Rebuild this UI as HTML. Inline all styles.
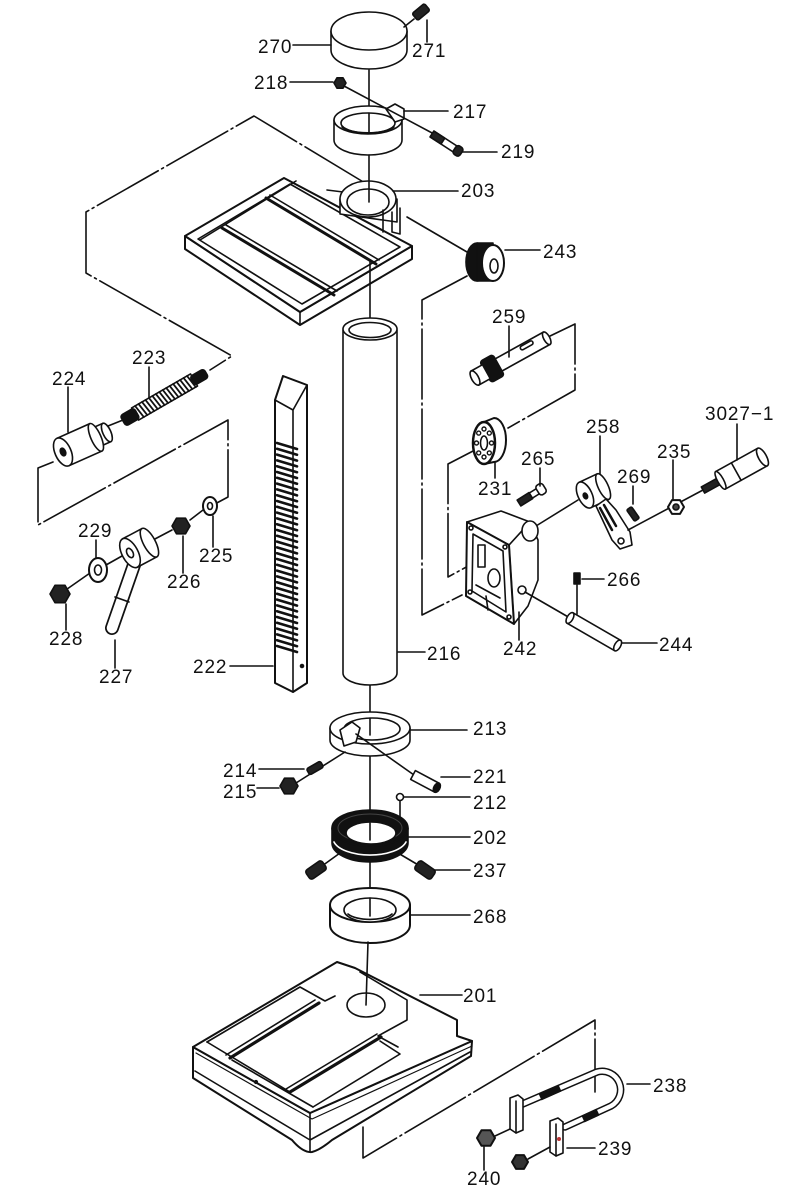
<!DOCTYPE html>
<html><head><meta charset="utf-8"><style>
html,body{margin:0;padding:0;background:#fff;}
svg{display:block}
text{font-family:"Liberation Sans",sans-serif;font-size:19px;fill:#111;letter-spacing:0.9px}
</style></head><body>
<svg width="799" height="1200" viewBox="0 0 799 1200" xmlns="http://www.w3.org/2000/svg">
<rect width="799" height="1200" fill="#fff"/>
<g fill="none" stroke="#111" stroke-width="1.6" stroke-linejoin="round" stroke-linecap="round">

<!-- chain lines -->
<g stroke-dasharray="70 4 2 4">
<path d="M365,183 L254,116 L86,212 L86,273 L232,356 L210,370"/>
<path d="M467,276 L422,300 L422,615 L462,595"/>
<path d="M548,337 L575,324 L575,390 L508,428"/>
<path d="M475,450 L448,464 L448,577 L470,565"/>
<path d="M53,462 L38,468 L38,525 L228,420 L228,497 L213,505"/>
<path d="M363,1127 L363,1158 L595,1020 L595,1092"/>
</g>
<line x1="407" y1="217" x2="467" y2="252"/>
<line x1="103" y1="428" x2="123" y2="420"/>

<!-- center lines -->
<line x1="369" y1="70" x2="369" y2="128"/>
<line x1="370" y1="685" x2="370" y2="730"/>
<line x1="370" y1="755" x2="370" y2="835"/>
<line x1="370" y1="860" x2="370" y2="912"/>

<!-- 270 cap -->
<path d="M331,31 V50 A38,19 0 0 0 407,50 V31" fill="#fff"/>
<ellipse cx="369" cy="31" rx="38" ry="19" fill="#fff"/>
<!-- 271 -->
<g transform="translate(421,12) rotate(-40)"><rect x="-8" y="-4.5" width="16" height="9" rx="2" fill="#222"/></g>
<line x1="414" y1="19" x2="404" y2="27"/>
<line x1="427" y1="20" x2="427" y2="42"/>
<line x1="293" y1="45" x2="331" y2="45"/>

<!-- 217 collar -->
<path d="M334,120 V140 A34,15 0 0 0 402,140 V120" fill="#fff"/>
<ellipse cx="368" cy="120" rx="34" ry="14" fill="#fff"/>
<ellipse cx="368" cy="123" rx="27" ry="10" fill="#fff"/>
<path d="M342,127 A27,8 0 0 0 394,127"/>
<path d="M386,109 L395,104 L404,109 L404,119 L395,122 Z" fill="#fff"/>
<line x1="369" y1="113" x2="369" y2="133"/>
<!-- 218 nut and bolt line -->
<polygon points="346,83 343,88.2 337,88.2 334,83 337,77.8 343,77.8" fill="#222"/>
<line x1="290" y1="82" x2="333" y2="82"/>
<line x1="344" y1="86" x2="434" y2="134"/>
<!-- 219 bolt -->
<g transform="translate(432,134) rotate(33)">
<rect x="0" y="-3.5" width="28" height="7" fill="#fff"/>
<rect x="0" y="-3.5" width="13" height="7" fill="#222"/>
<rect x="27" y="-5" width="8" height="10" rx="3" fill="#222"/>
</g>
<line x1="404" y1="111" x2="448" y2="111"/>
<line x1="462" y1="152" x2="497" y2="152"/>

<!-- 203 table -->
<path d="M185,236 L300,312 L412,246 L412,259 L300,325 L185,249 Z" fill="#fff" stroke-width="2"/>
<line x1="300" y1="312" x2="300" y2="325"/>
<polygon points="185,236 284,178 412,246 300,312" fill="#fff" stroke-width="2"/>
<polygon points="198,239 290,184 400,247 302,304"/>
<line x1="200" y1="240" x2="296" y2="181"/>
<path d="M266,198 L376,264" stroke-width="3"/>
<path d="M270,195 L379,260"/>
<path d="M222,228 L334,295" stroke-width="3"/>
<path d="M226,225 L337,291"/>
<line x1="327" y1="190" x2="343" y2="192"/>
<!-- ring boss -->
<path d="M340,199 V214 L397,222 V199" fill="#fff"/>
<ellipse cx="368" cy="199" rx="28" ry="18" fill="#fff"/>
<ellipse cx="368" cy="202" rx="21" ry="13" fill="#fff"/>
<path d="M383,210 V232 M392,212 V232 M400,208 V234 M392,232 L400,234"/>
<line x1="369" y1="155" x2="369" y2="202"/>
<line x1="370" y1="262" x2="370" y2="330"/>
<line x1="393" y1="191" x2="458" y2="191"/>

<!-- 243 knob -->
<ellipse cx="477" cy="262" rx="11" ry="19" fill="#111"/>
<rect x="477" y="243" width="16" height="38" fill="#111"/>
<ellipse cx="493" cy="263" rx="11" ry="18" fill="#fff" stroke-width="2"/>
<ellipse cx="494" cy="266" rx="4" ry="7" fill="#fff"/>
<line x1="505" y1="250" x2="540" y2="250"/>

<!-- 216 column -->
<path d="M343,330 V673 A27,12 0 0 0 397,673 V330" fill="#fff"/>
<ellipse cx="370" cy="329" rx="27" ry="11" fill="#fff"/>
<ellipse cx="370" cy="330" rx="21" ry="7.5" fill="#fff"/>
<line x1="398" y1="652" x2="425" y2="652"/>

<!-- 259 shaft -->
<g transform="translate(475,378) rotate(-29)">
<rect x="26" y="-7" width="56" height="14" fill="#fff"/>
<ellipse cx="82" cy="0" rx="3" ry="7" fill="#fff"/>
<rect x="54" y="-5.5" width="14" height="4" rx="2" fill="#fff"/>
<rect x="12" y="-12" width="15" height="24" rx="3" fill="#111"/>
<rect x="0" y="-8" width="13" height="16" fill="#fff"/>
<ellipse cx="0" cy="0" rx="3.5" ry="8" fill="#fff"/>
</g>
<line x1="509" y1="326" x2="509" y2="357"/>

<!-- 231 disk -->
<path d="M484,422 L494,418 A12,22 0 0 1 494,462 L484,464" fill="#fff" stroke-width="2"/>
<ellipse cx="484" cy="443" rx="11" ry="21" fill="#fff" stroke-width="2.5"/>
<ellipse cx="484" cy="443" rx="3.5" ry="7" fill="#fff"/>
<g stroke-width="1.4"><circle cx="491.5" cy="443" r="2"/><circle cx="489.3" cy="452.9" r="2"/><circle cx="484" cy="457" r="2"/><circle cx="478.7" cy="452.9" r="2"/><circle cx="476.5" cy="443" r="2"/><circle cx="478.7" cy="433.1" r="2"/><circle cx="484" cy="429" r="2"/><circle cx="489.3" cy="433.1" r="2"/></g>
<line x1="495" y1="462" x2="495" y2="478"/>

<!-- 265 screw -->
<g transform="translate(519,503) rotate(-32)">
<rect x="0" y="-3.5" width="14" height="7" fill="#222"/>
<rect x="14" y="-3" width="9" height="6" fill="#fff"/>
<rect x="22" y="-5.5" width="8" height="11" rx="3" fill="#fff"/>
</g>
<line x1="540" y1="468" x2="540" y2="486"/>

<!-- 242 housing -->
<line x1="536" y1="526" x2="578" y2="500"/>
<polygon points="509,545 530,522 538,540 538,580 528,606 514,624" fill="#fff"/>
<polygon points="467,522 501,511 530,522 509,545" fill="#fff"/>
<ellipse cx="530" cy="531" rx="8" ry="10" fill="#fff"/>
<polygon points="467,522 509,545 514,624 466,596" fill="#fff" stroke-width="2"/>
<polygon points="473,534 503,551 506,612 472,591"/>
<rect x="478" y="545" width="7" height="22" fill="#fff"/>
<ellipse cx="494" cy="578" rx="6" ry="9" fill="#fff"/>
<path d="M476,585 L500,598 M486,596 L488,610"/>
<circle cx="471" cy="528" r="2"/><circle cx="505" cy="547" r="2"/><circle cx="509" cy="617" r="2"/><circle cx="470" cy="592" r="2"/>
<circle cx="522" cy="590" r="4" fill="#fff"/>
<line x1="525" y1="592" x2="570" y2="618"/>
<line x1="519" y1="612" x2="519" y2="640"/>

<!-- 258 bracket -->
<g transform="translate(585,495) rotate(-25)">
<rect x="0" y="-14" width="20" height="28" fill="#fff"/>
<ellipse cx="20" cy="0" rx="5" ry="14" fill="#fff"/>
<ellipse cx="0" cy="0" rx="7" ry="14" fill="#fff"/>
<ellipse cx="0" cy="1" rx="2" ry="3" fill="#111"/>
</g>
<polygon points="596,506 606,499 616,510 630,532 632,545 620,549 612,540" fill="#fff"/>
<path d="M600,508 L612,530 M604,505 L616,526" stroke-width="2.5"/>
<circle cx="621" cy="541" r="3"/>
<line x1="600" y1="436" x2="600" y2="474"/>
<!-- 269 -->
<g transform="translate(633,514) rotate(55)"><rect x="-7" y="-3" width="14" height="6" rx="1.5" fill="#222"/></g>
<line x1="633" y1="486" x2="633" y2="504"/>
<!-- line through 235 -->
<line x1="628" y1="530" x2="703" y2="490"/>
<polygon points="684,507 680,513.9 672,513.9 668,507 672,500.1 680,500.1" fill="#fff" stroke-width="2"/>
<circle cx="676" cy="507" r="3" fill="#444"/>
<line x1="673" y1="460" x2="673" y2="499"/>
<!-- 3027-1 -->
<g transform="translate(703,490) rotate(-29)">
<rect x="0" y="-3.5" width="22" height="7" fill="#222"/>
<rect x="20" y="-10" width="48" height="20" fill="#fff"/>
<ellipse cx="68" cy="0" rx="4" ry="10" fill="#fff"/>
<ellipse cx="20" cy="0" rx="3" ry="10" fill="#fff"/>
<line x1="38" y1="-10" x2="38" y2="10"/>
</g>
<line x1="737" y1="424" x2="737" y2="460"/>

<!-- 266 -->
<rect x="574" y="573" width="6" height="11" fill="#111"/>
<line x1="582" y1="579" x2="604" y2="579"/>
<line x1="577" y1="585" x2="577" y2="614"/>
<!-- 244 pin -->
<g transform="translate(570,618) rotate(30)">
<rect x="0" y="-6" width="55" height="12" fill="#fff"/>
<ellipse cx="55" cy="0" rx="3" ry="6" fill="#fff"/>
<ellipse cx="0" cy="0" rx="3" ry="6" fill="#fff"/>
</g>
<line x1="622" y1="643" x2="657" y2="643"/>

<!-- 222 rack -->
<path d="M275,400 L283,376 L307,385 L307,683 L293,692 L275,683 Z" fill="#fff" stroke-width="2"/>
<path d="M275,400 L293,410 L307,385 M293,410 V692"/>
<path d="M277,443l20,6M277,448.8l20,6M277,454.6l20,6M277,460.4l20,6M277,466.2l20,6M277,472l20,6M277,477.8l20,6M277,483.6l20,6M277,489.4l20,6M277,495.2l20,6M277,501l20,6M277,506.8l20,6M277,512.6l20,6M277,518.4l20,6M277,524.2l20,6M277,530l20,6M277,535.8l20,6M277,541.6l20,6M277,547.4l20,6M277,553.2l20,6M277,559l20,6M277,564.8l20,6M277,570.6l20,6M277,576.4l20,6M277,582.2l20,6M277,588l20,6M277,593.8l20,6M277,599.6l20,6M277,605.4l20,6M277,611.2l20,6M277,617l20,6M277,622.8l20,6M277,628.6l20,6M277,634.4l20,6M277,640.2l20,6M277,646l20,6" stroke-width="2.6"/>
<circle cx="302" cy="666" r="1.5" fill="#111"/>
<line x1="230" y1="666" x2="273" y2="666"/>

<!-- 223 spring -->
<g transform="translate(123,421) rotate(-30)">
<rect x="14" y="-7" width="68" height="14" fill="#fff"/>
<path d="M18,-7l2,14M22,-7l2,14M26,-7l2,14M30,-7l2,14M34,-7l2,14M38,-7l2,14M42,-7l2,14M46,-7l2,14M50,-7l2,14M54,-7l2,14M58,-7l2,14M62,-7l2,14M66,-7l2,14M70,-7l2,14M74,-7l2,14M78,-7l2,14" stroke-width="1.8"/>
<rect x="0" y="-6" width="16" height="12" rx="3" fill="#111"/>
<rect x="80" y="-5" width="16" height="10" rx="3" fill="#111"/>
</g>
<line x1="149" y1="367" x2="149" y2="398"/>

<!-- 224 knob -->
<g transform="translate(63,452) rotate(-24)">
<rect x="36" y="-10" width="12" height="20" fill="#fff"/>
<ellipse cx="48" cy="0" rx="4" ry="10" fill="#fff"/>
<rect x="0" y="-15" width="36" height="30" fill="#fff"/>
<ellipse cx="36" cy="0" rx="5" ry="15" fill="#fff"/>
<ellipse cx="0" cy="0" rx="8" ry="15" fill="#fff"/>
<ellipse cx="0" cy="0" rx="2.5" ry="4" fill="#111"/>
</g>
<line x1="68" y1="387" x2="68" y2="432"/>

<!-- 225..228 group -->
<line x1="60" y1="594" x2="90" y2="573"/>
<line x1="106" y1="565" x2="122" y2="556"/>
<line x1="153" y1="540" x2="172" y2="530"/>
<line x1="190" y1="520" x2="203" y2="510"/>
<ellipse cx="210" cy="506" rx="7" ry="9" fill="#fff" stroke-width="2"/>
<ellipse cx="210" cy="506" rx="2.5" ry="3.5" fill="#fff"/>
<line x1="213" y1="516" x2="213" y2="547"/>
<polygon points="190,526 185.5,533.8 176.5,533.8 172,526 176.5,518.2 185.5,518.2" fill="#222"/>
<line x1="183" y1="536" x2="183" y2="573"/>
<!-- 227 handle -->
<path d="M135,562 L112,628" stroke="#111" stroke-width="14"/>
<path d="M135,562 L112,628" stroke="#fff" stroke-width="10.5"/>
<path d="M115,597 L129,602"/>
<g transform="translate(130,553) rotate(-28)">
<rect x="0" y="-16" width="22" height="32" fill="#fff"/>
<ellipse cx="22" cy="0" rx="6" ry="16" fill="#fff"/>
<ellipse cx="0" cy="0" rx="8" ry="16" fill="#fff"/>
<ellipse cx="0" cy="0" rx="3" ry="5" fill="#fff"/>
</g>
<line x1="115" y1="640" x2="115" y2="668"/>
<ellipse cx="98" cy="570" rx="9" ry="12" fill="#fff" stroke-width="2"/>
<ellipse cx="98" cy="570" rx="3.5" ry="5" fill="#fff"/>
<line x1="96" y1="540" x2="96" y2="558"/>
<polygon points="70,594 65,602.7 55,602.7 50,594 55,585.3 65,585.3" fill="#222"/>
<line x1="66" y1="604" x2="66" y2="630"/>

<!-- 213 ring -->
<path d="M330,728 V740 A40,16 0 0 0 410,740 V728" fill="#fff"/>
<ellipse cx="370" cy="728" rx="40" ry="16" fill="#fff"/>
<ellipse cx="372" cy="729" rx="28" ry="11" fill="#fff"/>
<line x1="370" y1="718" x2="370" y2="735"/>
<path d="M340,730 L352,722 L360,728 L356,742 L344,746 Z" fill="#fff"/>
<line x1="356" y1="734" x2="414" y2="775"/>
<g transform="translate(413,775) rotate(28)">
<rect x="0" y="-5" width="27" height="10" fill="#fff"/>
<ellipse cx="27" cy="0" rx="3" ry="5" fill="#111"/>
</g>
<line x1="410" y1="730" x2="467" y2="730"/>
<line x1="441" y1="777" x2="470" y2="777"/>
<!-- 214, 215 -->
<line x1="345" y1="752" x2="296" y2="783"/>
<g transform="translate(315,768) rotate(-30)"><rect x="-8" y="-3.5" width="16" height="7" rx="2" fill="#222"/></g>
<polygon points="298,786 293.5,793.8 284.5,793.8 280,786 284.5,778.2 293.5,778.2" fill="#222"/>
<line x1="259" y1="769" x2="304" y2="769"/>
<line x1="257" y1="788" x2="279" y2="788"/>

<!-- 212 -->
<line x1="400" y1="801" x2="400" y2="817"/>
<circle cx="400" cy="797" r="3.5" fill="#fff"/>
<line x1="404" y1="797" x2="470" y2="797"/>

<!-- 202 bearing -->
<line x1="340" y1="853" x2="322" y2="866"/>
<line x1="398" y1="853" x2="420" y2="866"/>
<path d="M332,828 V843 A38,19 0 0 0 408,843 V828" fill="#111"/>
<ellipse cx="370" cy="828" rx="38" ry="18" fill="#111"/>
<path d="M334,842 A37,17 0 0 0 406,842" stroke="#fff" stroke-width="1.6"/>
<ellipse cx="370" cy="828" rx="32" ry="14" stroke="#444" stroke-width="1"/>
<ellipse cx="371" cy="833" rx="25" ry="11" fill="#fff"/>
<line x1="370" y1="823" x2="370" y2="840"/>
<line x1="408" y1="837" x2="470" y2="837"/>
<g transform="translate(316,870) rotate(-35)"><rect x="-10" y="-5.5" width="20" height="11" rx="3" fill="#222"/></g>
<g transform="translate(425,870) rotate(35)"><rect x="-10" y="-5.5" width="20" height="11" rx="3" fill="#222"/></g>
<line x1="434" y1="870" x2="470" y2="870"/>

<!-- 268 ring -->
<path d="M330,905 V925 A40,18 0 0 0 410,925 V905" fill="#fff" stroke-width="2"/>
<ellipse cx="370" cy="905" rx="40" ry="17" fill="#fff" stroke-width="2"/>
<ellipse cx="370" cy="910" rx="26" ry="12" fill="#fff"/>
<path d="M348,914 A24,9 0 0 0 392,914"/>
<line x1="370" y1="898" x2="370" y2="916"/>
<line x1="410" y1="915" x2="470" y2="915"/>

<!-- 201 base -->
<path d="M193,1047 L310,1113 L472,1041 L471,1056 L332,1140 Q320,1150 312,1152 Q303,1153 292,1140 L193,1078 Z" fill="#fff" stroke-width="2"/>
<path d="M310,1113 V1152 M195,1071 L310,1140 L470,1052"/>
<polygon points="193,1047 337,962 355,968 457,1020 457,1036 472,1041 310,1113" fill="#fff" stroke-width="2"/>
<path d="M196,1053 L312,1119 L472,1046" stroke-width="1.2"/>
<path d="M207,1042 L300,987 L325,1001 L335,996 M360,972 L407,1000 L407,1020 L378,1036 L398,1047 M313,1107 L400,1054 L380,1041"/>
<path d="M230,1058 L319,1003" stroke-width="3.2"/>
<path d="M226,1055 L315,1000"/>
<path d="M290,1092 L381,1037" stroke-width="3.2"/>
<path d="M286,1089 L377,1034"/>
<path d="M207,1042 L290,1092 M232,1060 L313,1107"/>
<ellipse cx="366" cy="1005" rx="19" ry="12" fill="#fff"/>
<line x1="368" y1="942" x2="366" y2="1005"/>
<circle cx="256" cy="1082" r="1.3" fill="#111"/>
<line x1="420" y1="995" x2="462" y2="995"/>

<!-- 238 U-bolt -->
<path d="M518,1106 L597,1072 A18.5,18.5 0 0 1 611,1106 L565,1127" stroke="#111" stroke-width="7.5"/>
<path d="M518,1106 L597,1072 A18.5,18.5 0 0 1 611,1106 L565,1127" stroke="#fff" stroke-width="4.5"/>
<path d="M540,1097 L560,1088 M583,1119 L598,1112" stroke="#111" stroke-width="7.5" stroke-linecap="butt"/>
<line x1="627" y1="1084" x2="650" y2="1084"/>
<!-- 239 plates -->
<polygon points="510,1098 518,1095 523,1099 523,1130 516,1133 510,1129" fill="#fff"/>
<line x1="516" y1="1101" x2="516" y2="1133"/>
<polygon points="550,1121 558,1118 563,1122 563,1153 556,1156 550,1152" fill="#fff"/>
<line x1="556" y1="1124" x2="556" y2="1156"/>
<circle cx="559" cy="1139" r="2" fill="#b33" stroke="none"/>
<line x1="567" y1="1148" x2="595" y2="1148"/>
<!-- 240 nuts -->
<line x1="495" y1="1136" x2="510" y2="1129"/>
<line x1="528" y1="1159" x2="550" y2="1147"/>
<polygon points="495,1138 490.5,1145.8 481.5,1145.8 477,1138 481.5,1130.2 490.5,1130.2" fill="#555" stroke-width="2"/>
<polygon points="528,1162 524,1168.9 516,1168.9 512,1162 516,1155.1 524,1155.1" fill="#333" stroke-width="2"/>
<line x1="484" y1="1147" x2="484" y2="1170"/>
</g>

<g>
<text x="258" y="53">270</text>
<text x="412" y="57">271</text>
<text x="254" y="89">218</text>
<text x="453" y="118">217</text>
<text x="501" y="158">219</text>
<text x="461" y="197">203</text>
<text x="543" y="258">243</text>
<text x="492" y="323">259</text>
<text x="132" y="364">223</text>
<text x="52" y="385">224</text>
<text x="705" y="420">3027−1</text>
<text x="586" y="433">258</text>
<text x="657" y="458">235</text>
<text x="521" y="465">265</text>
<text x="617" y="483">269</text>
<text x="478" y="495">231</text>
<text x="78" y="537">229</text>
<text x="199" y="562">225</text>
<text x="167" y="588">226</text>
<text x="607" y="586">266</text>
<text x="49" y="645">228</text>
<text x="659" y="651">244</text>
<text x="503" y="655">242</text>
<text x="427" y="660">216</text>
<text x="193" y="673">222</text>
<text x="99" y="683">227</text>
<text x="473" y="735">213</text>
<text x="223" y="777">214</text>
<text x="473" y="783">221</text>
<text x="223" y="798">215</text>
<text x="473" y="809">212</text>
<text x="473" y="844">202</text>
<text x="473" y="877">237</text>
<text x="473" y="923">268</text>
<text x="463" y="1002">201</text>
<text x="653" y="1092">238</text>
<text x="598" y="1155">239</text>
<text x="467" y="1185">240</text>
</g>
</svg>
</body></html>
